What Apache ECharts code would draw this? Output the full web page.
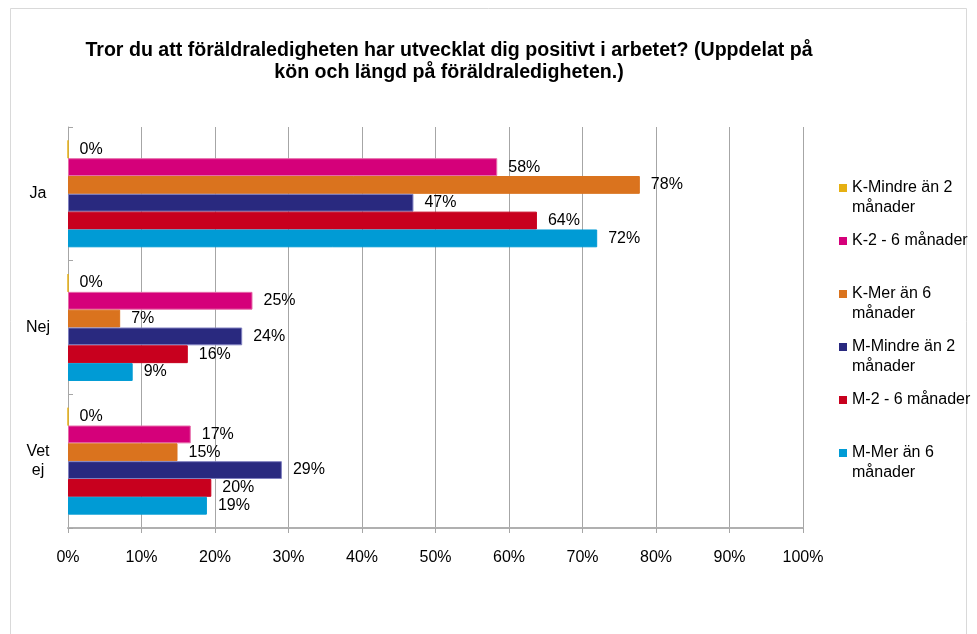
<!DOCTYPE html>
<head>
    <meta charset="utf-8">
    <title>Föräldraledighet</title>
</head>
<body style="margin:0;background:#fff;">
    <script type="text/javascript" src="https://cdn.jsdelivr.net/npm/echarts@6/dist/echarts.min.js"></script>

    <div id="main" style="width: 977px;height:634px;"></div>

    <script type="text/javascript">
        // svarsalternativ (y-axel)
        var kategorier = ['Ja', 'Nej', 'Vet\nej'];
        var seriesNamn = ['K-Mindre än 2\nmånader', 'K-2 - 6 månader', 'K-Mer än 6\nmånader',
                          'M-Mindre än 2\nmånader', 'M-2 - 6 månader', 'M-Mer än 6\nmånader'];
        // procent per kategori (Ja, Nej, Vet ej)
        var kMindre2 = [0, 0, 0];
        var k2till6  = [58.4, 25.1, 16.7];
        var kMer6    = [77.8, 7.1, 14.9];
        var mMindre2 = [47.0, 23.7, 29.1];
        var m2till6  = [63.8, 16.3, 19.5];
        var mMer6    = [72.0, 8.8, 18.9];
        var xTicks = [0, 10, 20, 30, 40, 50, 60, 70, 80, 90, 100];

        var farger = ['#e6b012', '#d5007a', '#da731e', '#29297f', '#c8001e', '#009bd5'];
        var kanter = ['#e6b012', '#e66aa8', '#da731e', '#8080c0', '#c8001e', '#009bd5'];
        var varden = [kMindre2, k2till6, kMer6, mMindre2, m2till6, mMer6];

        var font = "'Liberation Sans', Arial, sans-serif";

        var rich = {
            t: { fontSize: 16, lineHeight: 20, color: '#000', fontFamily: font },
            g: { width: 5, lineHeight: 20 },
            ind: { width: 13, lineHeight: 20 }
        };
        for (var i = 0; i < farger.length; i++) {
            rich['s' + i] = { width: 8, height: 8, lineHeight: 20, backgroundColor: farger[i] };
        }

        var series = [];
        for (var i = 0; i < seriesNamn.length; i++) {
            series.push({
                name: seriesNamn[i],
                type: 'bar',
                data: varden[i],
                barGap: 0,
                barCategoryGap: '20%',
                itemStyle: { color: farger[i], borderColor: kanter[i], borderWidth: 1 },
                label: {
                    show: true,
                    position: 'right',
                    distance: 11,
                    fontSize: 16,
                    color: '#000',
                    fontFamily: font,
                    formatter: function (p) { return Math.round(p.value) + '%'; }
                }
            });
        }

        var myChart = echarts.init(document.getElementById('main'));
        myChart.setOption({
            backgroundColor: '#fff',
            animation: false,
            textStyle: { fontFamily: font },
            title: {
                text: 'Tror du att föräldraledigheten har utvecklat dig positivt i arbetet? (Uppdelat på\nkön och längd på föräldraledigheten.)',
                left: 444,
                top: 35,
                textAlign: 'center',
                textStyle: { fontSize: 19.6, fontWeight: 'bold', lineHeight: 22, color: '#000', fontFamily: font }
            },
            graphic: [{
                type: 'rect',
                shape: { x: 10.5, y: 8.5, width: 956, height: 700 },
                style: { fill: 'none', stroke: '#d9d9d9', lineWidth: 1 },
                silent: true
            }],
            legend: {
                orient: 'vertical',
                left: 828,
                top: 173,
                itemWidth: 0,
                itemHeight: 0,
                itemGap: 13,
                data: seriesNamn,
                selectedMode: false,
                textStyle: { lineHeight: 20, rich: rich },
                formatter: function (name) {
                    var idx = seriesNamn.indexOf(name);
                    var rader = name.split('\n');
                    var s = '{s' + idx + '|}{g|}{t|' + rader[0] + '}\n{ind| }';
                    if (rader.length > 1) s += '{t|' + rader[1] + '}';
                    return s;
                }
            },
            grid: { left: 68, right: 174, top: 127, bottom: 106 },
            xAxis: {
                type: 'value',
                min: xTicks[0],
                max: xTicks[xTicks.length - 1],
                interval: 10,
                axisLine: { show: true, lineStyle: { color: '#b0b0b0', width: 2 } },
                axisTick: { show: true, length: 5, lineStyle: { color: '#a6a6a6' } },
                splitLine: { show: true, lineStyle: { color: '#a6a6a6', width: 1 } },
                axisLabel: { formatter: '{value}%', margin: 22, fontSize: 16, color: '#000' }
            },
            yAxis: {
                type: 'category',
                data: kategorier,
                inverse: true,
                axisLine: { show: true, lineStyle: { color: '#a6a6a6' } },
                axisTick: { show: true, inside: true, length: 5, lineStyle: { color: '#a6a6a6' } },
                axisLabel: { margin: 30, align: 'center', fontSize: 16, lineHeight: 19, color: '#000' }
            },
            series: series
        });
    </script>
</body>
